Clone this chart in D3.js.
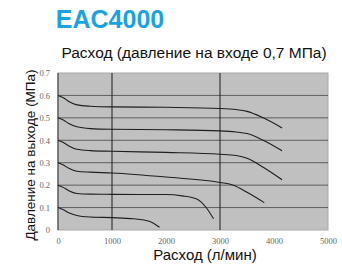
<!DOCTYPE html>
<html>
<head>
<meta charset="utf-8">
<script src="https://d3js.org/d3.v7.min.js"></script>
<style>
  body { margin: 0; background: #fff; }
  svg { display: block; }
</style>
</head>
<body>
<div id="chart"></div>
<script>
// flow (l/min) vs outlet pressure (MPa), inlet 0.7 MPa
const xTicks = [0, 1000, 2000, 3000, 4000, 5000];
const yTicks = [0, 0.1, 0.2, 0.3, 0.4, 0.5, 0.6, 0.7];
const xGrid = [1000, 3000];

const curve06 = [[0,0.6],[100,0.59],[200,0.573],[350,0.558],[600,0.552],[1000,0.549],[2000,0.547],[3000,0.542],[3300,0.537],[3500,0.529],[3800,0.5],[4150,0.455]];
const curve05 = [[0,0.5],[100,0.49],[200,0.475],[350,0.46],[600,0.452],[1000,0.449],[2000,0.447],[3000,0.442],[3300,0.437],[3500,0.43],[3800,0.4],[4150,0.353]];
const curve04 = [[0,0.4],[100,0.39],[200,0.375],[350,0.36],[600,0.354],[1000,0.351],[2000,0.346],[3000,0.338],[3300,0.332],[3500,0.32],[3800,0.28],[4150,0.224]];
const curve03 = [[0,0.3],[100,0.29],[200,0.275],[350,0.262],[600,0.258],[1000,0.254],[2000,0.236],[3000,0.212],[3250,0.2],[3500,0.168],[3820,0.122]];
const curve02 = [[0,0.2],[100,0.19],[200,0.175],[350,0.163],[600,0.16],[1000,0.159],[2000,0.158],[2300,0.152],[2570,0.138],[2750,0.098],[2880,0.05]];
const curve01 = [[0,0.1],[100,0.09],[200,0.077],[350,0.065],[600,0.058],[1000,0.055],[1400,0.05],[1700,0.038],[1880,0.012]];
const curves = [curve06, curve05, curve04, curve03, curve02, curve01];

const W = 342, H = 265;
const margin = {top: 73, right: 14, bottom: 35, left: 58};
const width = W - margin.left - margin.right,
      height = H - margin.top - margin.bottom;

const svg = d3.select("#chart").append("svg")
    .attr("width", W).attr("height", H);

// titles
svg.append("text")
    .attr("x", 110).attr("y", 28)
    .attr("text-anchor", "middle")
    .attr("font-family", "Arial, 'Liberation Sans', sans-serif")
    .attr("font-weight", "bold").attr("font-size", 25)
    .attr("fill", "#1aa3e3")
    .text("EAC4000");

svg.append("text")
    .attr("x", 194).attr("y", 58)
    .attr("text-anchor", "middle")
    .attr("font-family", "Arial, 'Liberation Sans', sans-serif")
    .attr("font-size", 15.5).attr("fill", "#111")
    .text("Расход (давление на входе 0,7 МПа)");

const g = svg.append("g")
    .attr("transform", `translate(${margin.left},${margin.top})`);

const x = d3.scaleLinear().domain([0, 5000]).range([0, width]);
const y = d3.scaleLinear().domain([0, 0.7]).range([height, 0]);

// plot background
g.append("rect")
    .attr("width", width).attr("height", height)
    .attr("fill", "#c0c0c0")
    .attr("stroke", "#a8a8a8");

// horizontal grid
g.append("g")
  .selectAll("line")
  .data(yTicks.slice(1, -1))
  .join("line")
    .attr("x1", 0).attr("x2", width)
    .attr("y1", d => y(d)).attr("y2", d => y(d))
    .attr("stroke", "#5e5e5e").attr("stroke-width", 1);

// vertical grid
g.append("g")
  .selectAll("line")
  .data(xGrid)
  .join("line")
    .attr("x1", d => x(d)).attr("x2", d => x(d))
    .attr("y1", 0).attr("y2", height)
    .attr("stroke", "#1a1a1a").attr("stroke-width", 1);

// left axis line
g.append("line")
    .attr("x1", 0).attr("x2", 0).attr("y1", 0).attr("y2", height)
    .attr("stroke", "#333");

// axes (labels only)
const yAxis = g.append("g")
    .call(d3.axisLeft(y).tickValues(yTicks).tickSize(0).tickPadding(8)
      .tickFormat(d => d === 0 ? "0" : d3.format(".1f")(d)));
const xAxis = g.append("g")
    .attr("transform", `translate(0,${height})`)
    .call(d3.axisBottom(x).tickValues(xTicks).tickSize(0).tickPadding(8)
      .tickFormat(d3.format("d")));
[yAxis, xAxis].forEach(a => {
  a.select(".domain").remove();
  a.selectAll("text")
    .attr("font-family", "'Liberation Serif', 'DejaVu Serif', serif")
    .attr("font-size", 8.5)
    .attr("fill", "#666");
});

// curves
const line = d3.line()
    .x(d => x(d[0])).y(d => y(d[1]))
    .curve(d3.curveMonotoneX);
g.append("g")
  .selectAll("path")
  .data(curves)
  .join("path")
    .attr("d", line)
    .attr("fill", "none")
    .attr("stroke", "#1e1e1e")
    .attr("stroke-width", 1.1);

// axis titles
svg.append("text")
    .attr("transform", `translate(35,155) rotate(-90)`)
    .attr("text-anchor", "middle")
    .attr("font-family", "Arial, 'Liberation Sans', sans-serif")
    .attr("font-size", 13.5).attr("fill", "#111")
    .text("Давление на выходе (МПа)");

svg.append("text")
    .attr("x", 205).attr("y", 260)
    .attr("text-anchor", "middle")
    .attr("font-family", "Arial, 'Liberation Sans', sans-serif")
    .attr("font-size", 15).attr("fill", "#111")
    .text("Расход (л/мин)");
</script>
</body>
</html>
